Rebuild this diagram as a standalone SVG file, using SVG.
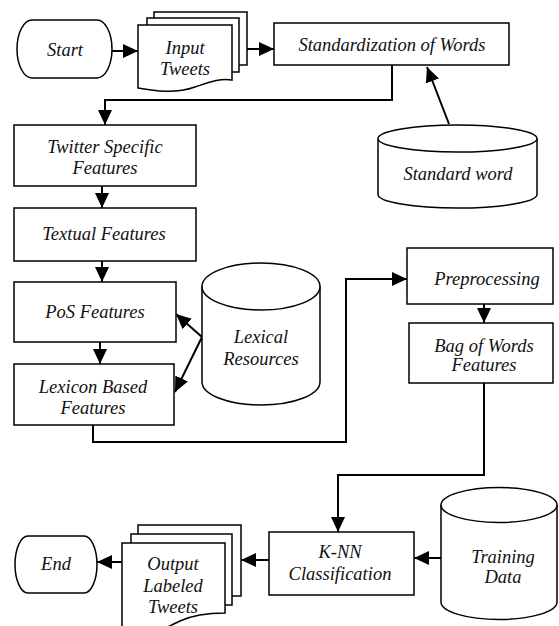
<svg xmlns="http://www.w3.org/2000/svg" width="559" height="626" viewBox="0 0 559 626">
<style>
.s{fill:#fff;stroke:#000;stroke-width:1.5}
.t{font-family:'Liberation Serif','Times New Roman',serif;font-style:italic;font-size:18.5px;text-anchor:middle;fill:#111}
.c{fill:none;stroke:#000;stroke-width:2}
</style>
<defs>
<marker id="ah" markerUnits="userSpaceOnUse" markerWidth="16" markerHeight="14" refX="15" refY="7" orient="auto">
<path d="M0,0 L15,7 L0,14 Z" fill="#000"/>
</marker>
</defs>
<rect width="559" height="626" fill="#fff"/>
<g id="connectors">
<line class="c" x1="112" y1="51" x2="138" y2="51" marker-end="url(#ah)"/>
<line class="c" x1="247" y1="49" x2="274" y2="49" marker-end="url(#ah)"/>
<polyline class="c" points="392,65 392,100 105,100 105,125" marker-end="url(#ah)"/>
<line class="c" x1="449" y1="124" x2="427" y2="67" marker-end="url(#ah)"/>
<line class="c" x1="102" y1="186" x2="102" y2="208" marker-end="url(#ah)"/>
<line class="c" x1="102" y1="261" x2="102" y2="282" marker-end="url(#ah)"/>
<line class="c" x1="100" y1="342" x2="100" y2="364" marker-end="url(#ah)"/>
<line class="c" x1="202" y1="337" x2="176" y2="314" marker-end="url(#ah)"/>
<line class="c" x1="202" y1="337" x2="175" y2="392" marker-end="url(#ah)"/>
<polyline class="c" points="93,425 93,442 346,442 346,279 407,279" marker-end="url(#ah)"/>
<line class="c" x1="484" y1="304" x2="484" y2="323" marker-end="url(#ah)"/>
<polyline class="c" points="484,383 484,475 338,475 338,532" marker-end="url(#ah)"/>
<line class="c" x1="441" y1="558" x2="414" y2="558" marker-end="url(#ah)"/>
<line class="c" x1="269" y1="560" x2="241" y2="560" marker-end="url(#ah)"/>
<line class="c" x1="122" y1="562" x2="97" y2="562" marker-end="url(#ah)"/>
</g>
<g id="start">
<path class="s" d="M32,20 H97 A15,29 0 0 1 97,78 H32 A15,29 0 0 1 32,20 Z"/>
<text class="t" x="65" y="56">Start</text>
</g>
<g id="input-tweets">
<path class="s" d="M154,12 H247 V65 H154 Z"/>
<path class="s" d="M147,18 H239 V72 H147 Z"/>
<path class="s" d="M138,25 H232 V80 C220,78 210,82 195,87 C175,94 155,91 138,88 Z"/>
<text class="t" x="185" y="54">Input</text>
<text class="t" x="185" y="75">Tweets</text>
</g>
<g id="standardization">
<rect class="s" x="274" y="23" width="235" height="42"/>
<text class="t" x="392" y="51">Standardization of Words</text>
</g>
<g id="standard-word">
<path class="s" d="M378,138.5 V194.5 A79.5,13.5 0 0 0 537,194.5 V138.5"/>
<ellipse class="s" cx="457.5" cy="138.5" rx="79.5" ry="13.5"/>
<text class="t" x="458" y="180">Standard word</text>
</g>
<g id="twitter-specific">
<rect class="s" x="14" y="125" width="182" height="61"/>
<text class="t" x="105" y="153">Twitter Specific</text>
<text class="t" x="105" y="174">Features</text>
</g>
<g id="textual">
<rect class="s" x="14" y="208" width="182" height="53"/>
<text class="t" x="104" y="240">Textual Features</text>
</g>
<g id="pos">
<rect class="s" x="14" y="282" width="162" height="60"/>
<text class="t" x="95" y="318">PoS Features</text>
</g>
<g id="lexicon-based">
<rect class="s" x="14" y="364" width="160" height="61"/>
<text class="t" x="93" y="393">Lexicon Based</text>
<text class="t" x="93" y="414">Features</text>
</g>
<g id="lexical-resources">
<path class="s" d="M202,286.5 V382 A59,23 0 0 0 320,382 V286.5"/>
<ellipse class="s" cx="261" cy="286.5" rx="59" ry="23.5"/>
<text class="t" x="261" y="343">Lexical</text>
<text class="t" x="261" y="365">Resources</text>
</g>
<g id="preprocessing">
<rect class="s" x="407" y="248" width="146" height="56"/>
<text class="t" x="487" y="285">Preprocessing</text>
</g>
<g id="bag-of-words">
<rect class="s" x="409" y="323" width="144" height="60"/>
<text class="t" x="484" y="352">Bag of Words</text>
<text class="t" x="484" y="371">Features</text>
</g>
<g id="knn">
<rect class="s" x="269" y="532" width="145" height="63"/>
<text class="t" x="340" y="558">K-NN</text>
<text class="t" x="340" y="580">Classification</text>
</g>
<g id="training-data">
<path class="s" d="M441,505 V602 A58,17.5 0 0 0 557,602 V505"/>
<ellipse class="s" cx="499" cy="505" rx="58" ry="17.5"/>
<text class="t" x="503" y="563">Training</text>
<text class="t" x="503" y="583">Data</text>
</g>
<g id="output-tweets">
<path class="s" d="M138,525 H241 V596 H138 Z"/>
<path class="s" d="M131,534 H232 V605 H131 Z"/>
<path class="s" d="M122,543 H225 V613 C210,613 195,614 180,621 C172,625 168,627 165,628 H122 Z"/>
<text class="t" x="173" y="570">Output</text>
<text class="t" x="173" y="592">Labeled</text>
<text class="t" x="173" y="613">Tweets</text>
</g>
<g id="end">
<path class="s" d="M28,536 H84 A13,28.5 0 0 1 84,593 H28 A13,28.5 0 0 1 28,536 Z"/>
<text class="t" x="56" y="570">End</text>
</g>
</svg>
